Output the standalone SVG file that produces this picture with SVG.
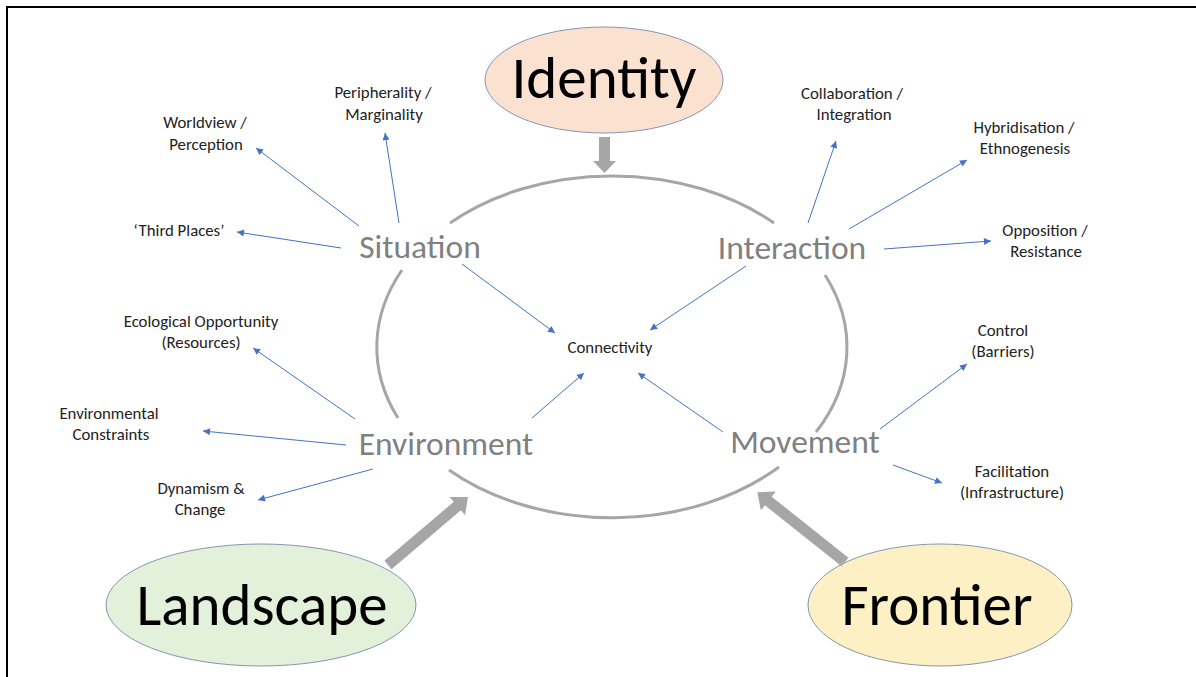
<svg xmlns="http://www.w3.org/2000/svg" width="1196" height="677" viewBox="0 0 1196 677">
<defs>
<style>
.frame{stroke:#000;stroke-width:2;fill:none}
.ring{fill:none;stroke:#A6A6A6;stroke-width:3}
.big{font-family:Carlito,'Liberation Sans',sans-serif;font-size:59px;fill:#000;text-anchor:middle}
.mid{font-family:Carlito,'Liberation Sans',sans-serif;font-size:33.5px;fill:#808080;text-anchor:middle}
.sm{font-family:Carlito,'Liberation Sans',sans-serif;font-size:16.8px;fill:#222;text-anchor:middle}
.oval{stroke:#8497B0;stroke-width:1}
.block{fill:#A6A6A6}
.thin{stroke:#4472C4;stroke-width:1;fill:none;marker-end:url(#ah)}
</style>
<marker id="ah" viewBox="0 0 10 10" refX="10" refY="5" markerWidth="8" markerHeight="7" markerUnits="userSpaceOnUse" orient="auto">
<path d="M0,0 L10,5 L0,10 z" fill="#4472C4"/>
</marker>
</defs>
<rect width="1196" height="677" fill="#fff"/>
<path class="frame" d="M7 677 V7 H1196"/>

<g id="ring">
<path class="ring" d="M450 223 A235 171 0 0 1 774 223"/>
<path class="ring" d="M825 275 A235 171 0 0 1 816 432"/>
<path class="ring" d="M779 467 A235 171 0 0 1 449 470"/>
<path class="ring" d="M398 418 A235 171 0 0 1 402 270"/>
</g>

<g id="identity">
<ellipse class="oval" cx="604" cy="80" rx="119" ry="53" fill="#FBE1D0"/>
<text class="big" x="604" y="98">Identity</text>
</g>
<g id="landscape">
<ellipse class="oval" cx="261" cy="605" rx="155" ry="61" fill="#E3F0DA"/>
<text class="big" x="262" y="625">Landscape</text>
</g>
<g id="frontier">
<ellipse class="oval" cx="940" cy="605" rx="132" ry="61" fill="#FDF0C4"/>
<text class="big" x="937" y="625">Frontier</text>
</g>

<g id="situation"><text class="mid" x="420" y="258">Situation</text></g>
<g id="interaction"><text class="mid" x="792" y="259">Interaction</text></g>
<g id="environment"><text class="mid" x="446" y="455">Environment</text></g>
<g id="movement"><text class="mid" x="805" y="453">Movement</text></g>
<g id="connectivity"><text class="sm" x="610" y="353">Connectivity</text></g>

<g id="worldview"><text class="sm" x="205" y="128">Worldview /</text><text class="sm" x="206" y="150">Perception</text></g>
<g id="peripherality"><text class="sm" x="383" y="98">Peripherality /</text><text class="sm" x="384" y="120">Marginality</text></g>
<g id="thirdplaces"><text class="sm" x="179" y="236">‘Third Places’</text></g>
<g id="collaboration"><text class="sm" x="852" y="99">Collaboration /</text><text class="sm" x="854" y="120">Integration</text></g>
<g id="hybridisation"><text class="sm" x="1024" y="133">Hybridisation /</text><text class="sm" x="1025" y="154">Ethnogenesis</text></g>
<g id="opposition"><text class="sm" x="1045" y="236">Opposition /</text><text class="sm" x="1046" y="257">Resistance</text></g>
<g id="ecological"><text class="sm" x="201" y="327">Ecological Opportunity</text><text class="sm" x="201" y="348">(Resources)</text></g>
<g id="constraints"><text class="sm" x="109" y="419">Environmental</text><text class="sm" x="111" y="440">Constraints</text></g>
<g id="dynamism"><text class="sm" x="201" y="494">Dynamism &amp;</text><text class="sm" x="200" y="515">Change</text></g>
<g id="control"><text class="sm" x="1003" y="336">Control</text><text class="sm" x="1003" y="357">(Barriers)</text></g>
<g id="facilitation"><text class="sm" x="1012" y="477">Facilitation</text><text class="sm" x="1012" y="498">(Infrastructure)</text></g>

<g id="connectors">
<polygon class="block" transform="translate(604.5 137) rotate(90)" points="0,-5.5 24,-5.5 24,-11.5 36,0 24,11.5 24,5.5 0,5.5"/>
<polygon class="block" transform="translate(388 565) rotate(-40.4)" points="0,-5.5 91,-5.5 91,-12 105,0 91,12 91,5.5 0,5.5"/>
<polygon class="block" transform="translate(845 562) rotate(-141.5)" points="0,-5.5 98,-5.5 98,-12 112,0 98,12 98,5.5 0,5.5"/>

<line class="thin" x1="359" y1="226" x2="256" y2="148"/>
<line class="thin" x1="399" y1="223" x2="385" y2="133"/>
<line class="thin" x1="341" y1="248" x2="237" y2="232"/>
<line class="thin" x1="462" y1="264" x2="555" y2="333"/>

<line class="thin" x1="808" y1="223" x2="836" y2="141"/>
<line class="thin" x1="849" y1="229" x2="967" y2="160"/>
<line class="thin" x1="884" y1="249" x2="991" y2="241"/>
<line class="thin" x1="746" y1="266" x2="650" y2="330"/>

<line class="thin" x1="355" y1="419" x2="253" y2="348"/>
<line class="thin" x1="346" y1="445" x2="203" y2="431"/>
<line class="thin" x1="373" y1="469" x2="258" y2="500"/>
<line class="thin" x1="532" y1="418" x2="584" y2="373"/>

<line class="thin" x1="723" y1="432" x2="638" y2="373"/>
<line class="thin" x1="880" y1="429" x2="967" y2="364"/>
<line class="thin" x1="893" y1="465" x2="942" y2="483"/>
</g>
</svg>
